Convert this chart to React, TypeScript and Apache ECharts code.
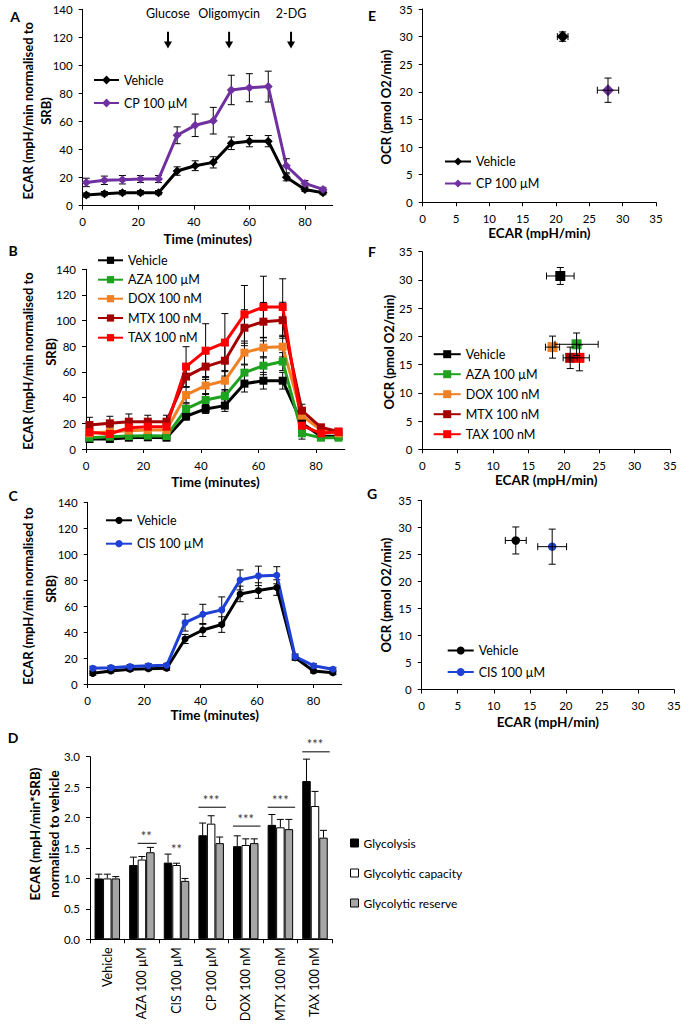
import React, { useEffect, useRef } from "react";
import * as echarts from "echarts";

const FONT = "Lato, 'Open Sans', 'Liberation Sans', sans-serif";

// ---------- Panel A ----------
const timesA = [1.3, 7.8, 14.3, 20.8, 27.3, 34, 40.5, 47, 53.5, 60, 66.8, 73.3, 80, 86.5];
const vehicleA = [7.6, 8.6, 9.3, 9.3, 9.3, 24.7, 28.5, 30.9, 44.5, 46, 46, 20.2, 11.6, 9.3];
const vehicleAErr = [1.5, 1.5, 1.5, 1.5, 1.5, 3, 3.5, 4, 4.5, 4, 4, 2.5, 1.5, 1.5];
const cpA = [16.6, 18.1, 18.5, 19, 19, 50.2, 57.3, 60.6, 82.5, 84.1, 84.9, 28.5, 15.9, 11.6];
const cpAErr = [3, 3, 3, 2.5, 2.5, 6, 8, 9.5, 10.5, 10, 11, 5, 2, 1.5];
const arrowTimes = [30.7, 52.7, 75];
const arrowLabels = ["Glucose", "Oligomycin", "2-DG"];

// ---------- Panel B ----------
const timesB = [1.2, 8.3, 14.9, 21.5, 28.0, 34.8, 41.6, 48.3, 55.1, 61.7, 68.4, 75.1, 81.7, 87.8];
const vehicleB = [7.8, 7.8, 8.8, 9.1, 8.8, 25.5, 31.2, 33.8, 50.9, 53.2, 53.2, 20, 10, 10];
const vehicleBErr = [2, 2, 2, 2, 2, 3, 3.5, 4.5, 6.5, 6.5, 6.5, 3, 2, 2];
const azaB = [8.8, 9.6, 10.1, 10.4, 10.1, 31.2, 38.2, 41.3, 59.5, 64.9, 68.1, 12.2, 8.8, 8.8];
const azaBErr = [2, 2, 2, 2, 2, 4, 5, 5, 6, 7, 7, 4.5, 2, 2];
const doxB = [12.2, 13.5, 14.3, 14.8, 14.8, 42.1, 49.4, 53.2, 75.1, 79, 79.7, 26, 14.8, 12.2];
const doxBErr = [3, 3, 3, 3, 3, 6, 7, 8, 9, 8, 8, 4, 2, 2];
const mtxB = [18.7, 20, 21.3, 21.3, 21.3, 56.4, 64.2, 68.8, 94.5, 99.2, 100.3, 29.9, 16.9, 13.5];
const mtxBErr = [6, 5.5, 6, 5, 5, 8, 10, 12, 14, 15, 14, 5, 2, 2];
const taxB = [13, 11.7, 16.6, 17.4, 17.4, 64.2, 76.6, 82.9, 104.9, 110.6, 110.6, 18.2, 12.2, 13.5];
const taxBErr = [4, 4, 4, 4, 4, 15.5, 21, 22.6, 22.5, 24, 22, 3, 2, 2];

// ---------- Panel C ----------
const timesC = [1.8, 8.2, 15.0, 21.5, 28.0, 34.5, 40.8, 47.5, 54.0, 60.5, 67.0, 73.5, 80.0, 86.9];
const vehicleC = [8.2, 10, 11.3, 11.8, 12.1, 34.7, 41.6, 45.8, 69.4, 72, 74.3, 20.3, 10, 8.7];
const vehicleCErr = [1.5, 1.5, 1.5, 1.5, 1.5, 3.5, 5, 6, 6, 6, 6, 2, 1.5, 1.5];
const cisC = [12.1, 12.6, 13.4, 14.1, 14.4, 47.3, 53.7, 57.1, 80.2, 83.3, 83.8, 21.1, 14.1, 11.3];
const cisCErr = [1.5, 1.5, 1.5, 1.5, 1.5, 6.5, 7.7, 10, 7.7, 7.5, 6.6, 2, 1.5, 1.5];

// ---------- Panel D ----------
const categoriesD = ["Vehicle", "AZA 100 µM", "CIS 100 µM", "CP 100 µM", "DOX 100 nM", "MTX 100 nM", "TAX 100 nM"];
const glycolysis = [1.0, 1.22, 1.26, 1.71, 1.53, 1.88, 2.6];
const glycolysisErr = [0.07, 0.13, 0.14, 0.2, 0.17, 0.17, 0.36];
const capacity = [1.0, 1.31, 1.22, 1.9, 1.55, 1.84, 2.19];
const capacityErr = [0.07, 0.05, 0.03, 0.13, 0.1, 0.13, 0.24];
const reserve = [1.0, 1.43, 0.96, 1.58, 1.58, 1.81, 1.67];
const reserveErr = [0.03, 0.08, 0.04, 0.1, 0.07, 0.16, 0.12];
const sigCats = [1, 2, 3, 4, 5, 6];
const sigLevels = [1.577, 1.36, 2.17, 1.86, 2.17, 3.08];
const sigFrom = [1, 1, 0, 0, 0, 0];
const sigTo = [2, 1, 2, 2, 2, 2];
const sigHasLine = [1, 0, 1, 1, 1, 1];
const sigLabels = ["**", "**", "***", "***", "***", "***"];

// ---------- Panel E ----------
const namesE = ["Vehicle", "CP 100 µM"];
const ecarE = [21.0, 27.8];
const ecarEErr = [0.8, 1.6];
const ocrE = [30.0, 20.3];
const ocrEErr = [0.85, 2.2];

// ---------- Panel F ----------
const namesF = ["Vehicle", "AZA 100 µM", "DOX 100 nM", "MTX 100 nM", "TAX 100 nM"];
const ecarF = [19.5, 21.8, 18.4, 20.9, 22.2];
const ecarFErr = [1.95, 3.05, 1.0, 1.0, 1.4];
const ocrF = [30.7, 18.6, 18.1, 16.2, 16.2];
const ocrFErr = [1.5, 2.0, 1.95, 1.9, 2.3];

// ---------- Panel G ----------
const namesG = ["Vehicle", "CIS 100 µM"];
const ecarG = [13.05, 18.1];
const ecarGErr = [1.45, 2.0];
const ocrG = [27.6, 26.45];
const ocrGErr = [2.5, 3.25];

// ---------- styles ----------
const C_VEH = "#000000";
const C_CP = "#7030a0";
const C_AZA = "#1fa21f";
const C_DOX = "#f08024";
const C_MTX = "#a40000";
const C_TAX = "#ff0000";
const C_CIS = "#1e40d4";
const C_GRAY = "#a6a6a6";
const BAR_W = 8.5;

const zip = (xs: number[], ys: number[]) => xs.map((x, i) => [x, ys[i]]);

const stroke = { stroke: "#000", lineWidth: 1 };

const yErrRender = (cap: number) => (params: any, api: any) => {
  const x = api.value(0), y = api.value(1), e = api.value(2);
  const a = api.coord([x, y + e]);
  const b = api.coord([x, y - e]);
  return {
    type: "group",
    children: [
      { type: "line", shape: { x1: a[0], y1: a[1], x2: b[0], y2: b[1] }, style: stroke },
      { type: "line", shape: { x1: a[0] - cap, y1: a[1], x2: a[0] + cap, y2: a[1] }, style: stroke },
      { type: "line", shape: { x1: b[0] - cap, y1: b[1], x2: b[0] + cap, y2: b[1] }, style: stroke },
    ],
  };
};

const xyErrRender = (cap: number) => (params: any, api: any) => {
  const x = api.value(0), y = api.value(1), xe = api.value(2), ye = api.value(3);
  const t = api.coord([x, y + ye]);
  const b = api.coord([x, y - ye]);
  const l = api.coord([x - xe, y]);
  const r = api.coord([x + xe, y]);
  return {
    type: "group",
    children: [
      { type: "line", shape: { x1: t[0], y1: t[1], x2: b[0], y2: b[1] }, style: stroke },
      { type: "line", shape: { x1: t[0] - cap, y1: t[1], x2: t[0] + cap, y2: t[1] }, style: stroke },
      { type: "line", shape: { x1: b[0] - cap, y1: b[1], x2: b[0] + cap, y2: b[1] }, style: stroke },
      { type: "line", shape: { x1: l[0], y1: l[1], x2: r[0], y2: r[1] }, style: stroke },
      { type: "line", shape: { x1: l[0], y1: l[1] - cap, x2: l[0], y2: l[1] + cap }, style: stroke },
      { type: "line", shape: { x1: r[0], y1: r[1] - cap, x2: r[0], y2: r[1] + cap }, style: stroke },
    ],
  };
};

const barErrRender = (offset: number) => (params: any, api: any) => {
  const c = api.value(0), v = api.value(1), e = api.value(2);
  const a = api.coord([c, v]);
  const b = api.coord([c, v + e]);
  const x = a[0] + offset * BAR_W;
  return {
    type: "group",
    children: [
      { type: "line", shape: { x1: x, y1: a[1], x2: x, y2: b[1] }, style: stroke },
      { type: "line", shape: { x1: x - 3.5, y1: b[1], x2: x + 3.5, y2: b[1] }, style: stroke },
    ],
  };
};

const axisLineStyle = { lineStyle: { color: "#000", width: 1 } };
const tickLabel = { color: "#000", fontSize: 11.5, fontFamily: FONT };
const axisNameStyle = { fontSize: 13.5, fontWeight: "bold", fontFamily: FONT, color: "#000" };

function valueAxis(gridIndex: number, min: number, max: number, interval: number, extra: any = {}) {
  return {
    type: "value",
    gridIndex,
    min,
    max,
    interval,
    splitLine: { show: false },
    axisLine: { show: true, onZero: false, ...axisLineStyle },
    axisTick: { show: true, length: 4, lineStyle: { color: "#000" } },
    axisLabel: { ...tickLabel, margin: 10 },
    ...extra,
  };
}

const timeTicks = [0, 20, 40, 60, 80];
function timeAxis(gridIndex: number, gap: number) {
  return valueAxis(gridIndex, 0, 90, 20, {
    axisTick: { show: true, length: 4, lineStyle: { color: "#000" }, customValues: timeTicks },
    axisLabel: { ...tickLabel, margin: 10, customValues: timeTicks },
    name: "Time (minutes)",
    nameLocation: "middle",
    nameGap: gap,
    nameTextStyle: axisNameStyle,
  });
}
function ecarAxis(gridIndex: number, gap: number) {
  return valueAxis(gridIndex, 0, 35, 5, {
    name: "ECAR (mpH/min)",
    nameLocation: "middle",
    nameGap: gap,
    nameTextStyle: axisNameStyle,
  });
}

function lineSeries(name: string, xi: number, times: number[], vals: number[], color: string, symbol: string, size: number) {
  return {
    type: "line",
    name,
    xAxisIndex: xi,
    yAxisIndex: xi,
    data: zip(times, vals),
    symbol,
    symbolSize: size,
    showSymbol: true,
    color,
    itemStyle: { color },
    lineStyle: { color, width: 3 },
    z: 3,
  };
}
function errSeries(xi: number, times: number[], vals: number[], errs: number[], cap: number) {
  return {
    type: "custom",
    xAxisIndex: xi,
    yAxisIndex: xi,
    renderItem: yErrRender(cap),
    data: times.map((t, i) => [t, vals[i], errs[i]]),
    encode: { x: 0, y: 1 },
    silent: true,
    z: 2,
  };
}
function pointSeries(name: string, xi: number, x: number, y: number, color: string, symbol: string, size: number) {
  return {
    type: "line",
    name,
    xAxisIndex: xi,
    yAxisIndex: xi,
    data: [[x, y]],
    symbol,
    symbolSize: size,
    showSymbol: true,
    color,
    itemStyle: { color },
    lineStyle: { color, width: 3, opacity: 0 },
    z: 4,
  };
}
function xyErrSeries(xi: number, xs: number[], ys: number[], xe: number[], ye: number[], cap: number) {
  return {
    type: "custom",
    xAxisIndex: xi,
    yAxisIndex: xi,
    renderItem: xyErrRender(cap),
    data: xs.map((x, i) => [x, ys[i], xe[i], ye[i]]),
    encode: { x: 0, y: 1 },
    silent: true,
    z: 5,
  };
}

function legendItem(name: string, left: number, cy: number, w: number, h: number, extra: any = {}) {
  return {
    data: [name],
    left,
    top: cy - h / 2,
    orient: "vertical",
    itemWidth: w,
    itemHeight: h,
    padding: 0,
    itemGap: 0,
    selectedMode: false,
    formatter: (n: string) => n.split("|")[1],
    textStyle: { fontSize: 12.5, fontFamily: FONT, color: "#000" },
    lineStyle: { opacity: 1 },
    ...extra,
  };
}

const colorsB = [C_VEH, C_AZA, C_DOX, C_MTX, C_TAX];
const namesB = ["Vehicle", "AZA 100 µM", "DOX 100 nM", "MTX 100 nM", "TAX 100 nM"];
const valsB = [vehicleB, azaB, doxB, mtxB, taxB];
const errsB = [vehicleBErr, azaBErr, doxBErr, mtxBErr, taxBErr];
const colorsF = [C_VEH, C_AZA, C_DOX, C_MTX, C_TAX];

function titleText(text: string, x: number, y: number, size = 13) {
  return {
    type: "text",
    x,
    y,
    rotation: Math.PI / 2,
    silent: true,
    style: { text, fill: "#000", fontSize: size, fontWeight: "bold", fontFamily: FONT, align: "center", verticalAlign: "middle" },
  };
}
function panelLabel(text: string, x: number, y: number) {
  return {
    type: "text",
    x,
    y,
    silent: true,
    style: { text, fill: "#000", fontSize: 14, fontWeight: "bold", fontFamily: FONT, align: "center", verticalAlign: "middle" },
  };
}

function buildOption() {
  const grids = [
    { left: 82.7, top: 9.3, width: 250, height: 196.4 },
    { left: 86, top: 269.3, width: 258.8, height: 179.7 },
    { left: 87.7, top: 502.3, width: 254, height: 181.7 },
    { left: 90, top: 756.7, width: 242.3, height: 182.6 },
    { left: 422.7, top: 9, width: 233.3, height: 193.3 },
    { left: 422.3, top: 251.7, width: 247.7, height: 197.6 },
    { left: 421.7, top: 500.5, width: 252.3, height: 189 },
  ].map((g) => ({ ...g, containLabel: false, outerBoundsMode: "none" }));

  const xAxes: any[] = [
    timeAxis(0, 26),
    timeAxis(1, 26),
    timeAxis(2, 24),
    {
      type: "category",
      gridIndex: 3,
      data: categoriesD,
      axisLine: { show: true, ...axisLineStyle },
      axisTick: { show: true, length: 4, alignWithLabel: false, interval: 0, lineStyle: { color: "#000" } },
      axisLabel: { ...tickLabel, fontSize: 12.5, rotate: 90, interval: 0, margin: 8 },
      splitLine: { show: false },
    },
    ecarAxis(4, 24),
    ecarAxis(5, 24),
    ecarAxis(6, 25),
  ];
  const yAxes: any[] = [
    valueAxis(0, 0, 140, 20),
    valueAxis(1, 0, 140, 20),
    valueAxis(2, 0, 140, 20),
    valueAxis(3, 0, 3, 0.5, { axisLabel: { ...tickLabel, margin: 10, formatter: (v: number) => v.toFixed(1) } }),
    valueAxis(4, 0, 35, 5),
    valueAxis(5, 0, 35, 5),
    valueAxis(6, 0, 35, 5),
  ];

  const series: any[] = [];
  const legends: any[] = [];

  // A
  series.push(errSeries(0, timesA, vehicleA, vehicleAErr, 3.5));
  series.push(errSeries(0, timesA, cpA, cpAErr, 3.5));
  series.push(lineSeries("A|Vehicle", 0, timesA, vehicleA, C_VEH, "diamond", 9));
  series.push(lineSeries("A|CP 100 µM", 0, timesA, cpA, C_CP, "diamond", 9));
  series.push({
    type: "custom",
    xAxisIndex: 0,
    yAxisIndex: 0,
    silent: true,
    clip: false,
    data: arrowTimes.map((t) => [t, 0]),
    encode: { x: 0, y: 1 },
    renderItem: (params: any, api: any) => {
      const t = api.value(0);
      const top = api.coord([t, 124]);
      const bot = api.coord([t, 112]);
      const lab = api.coord([t, 137.3]);
      const x = top[0];
      return {
        type: "group",
        children: [
          { type: "line", shape: { x1: x, y1: top[1], x2: x, y2: bot[1] - 5 }, style: { stroke: "#000", lineWidth: 2 } },
          { type: "polygon", shape: { points: [[x - 4, bot[1] - 7], [x + 4, bot[1] - 7], [x, bot[1]]] }, style: { fill: "#000" } },
          {
            type: "text",
            x,
            y: lab[1],
            style: { text: arrowLabels[params.dataIndex], fill: "#000", fontSize: 12.5, fontFamily: FONT, align: "center", verticalAlign: "middle" },
          },
        ],
      };
    },
  });
  legends.push(legendItem("A|Vehicle", 93, 79, 25, 11));
  legends.push(legendItem("A|CP 100 µM", 93, 102, 25, 11));

  // B
  const rowsB = [258.3, 277.7, 296.7, 316, 335.7];
  for (let i = 0; i < 5; i++) series.push(errSeries(1, timesB, valsB[i], errsB[i], 3.5));
  for (let i = 0; i < 5; i++) {
    const n = "B|" + namesB[i];
    series.push(lineSeries(n, 1, timesB, valsB[i], colorsB[i], "rect", 8));
    legends.push(legendItem(n, 97, rowsB[i], 25, 9));
  }

  // C
  series.push(errSeries(2, timesC, vehicleC, vehicleCErr, 3.5));
  series.push(errSeries(2, timesC, cisC, cisCErr, 3.5));
  series.push(lineSeries("C|Vehicle", 2, timesC, vehicleC, C_VEH, "circle", 7));
  series.push(lineSeries("C|CIS 100 µM", 2, timesC, cisC, C_CIS, "circle", 7));
  legends.push(legendItem("C|Vehicle", 105, 518.3, 26, 9));
  legends.push(legendItem("C|CIS 100 µM", 105, 541.7, 26, 9));

  // D
  const barDefs = [
    { name: "D|Glycolysis", vals: glycolysis, errs: glycolysisErr, color: "#000000" },
    { name: "D|Glycolytic capacity", vals: capacity, errs: capacityErr, color: "#ffffff" },
    { name: "D|Glycolytic reserve", vals: reserve, errs: reserveErr, color: C_GRAY },
  ];
  const rowsD = [841, 871, 901];
  barDefs.forEach((b, i) => {
    series.push({
      type: "bar",
      name: b.name,
      xAxisIndex: 3,
      yAxisIndex: 3,
      data: b.vals,
      barWidth: BAR_W,
      barGap: "0%",
      color: b.color,
      itemStyle: { color: b.color, borderColor: "#000", borderWidth: 1 },
      z: 2,
    });
    legends.push(
      legendItem(b.name, 350, rowsD[i], 8, 8, {
        icon: "rect",
        itemStyle: { borderColor: "#000", borderWidth: 1 },
        textStyle: { fontSize: 12, fontFamily: FONT, color: "#000" },
      })
    );
  });
  barDefs.forEach((b, i) => {
    series.push({
      type: "custom",
      xAxisIndex: 3,
      yAxisIndex: 3,
      silent: true,
      renderItem: barErrRender(i - 1),
      data: b.vals.map((v, c) => [c, v, b.errs[c]]),
      encode: { x: 0, y: 1 },
      z: 3,
    });
  });
  series.push({
    type: "custom",
    xAxisIndex: 3,
    yAxisIndex: 3,
    silent: true,
    clip: false,
    data: sigCats.map((c, i) => [c, sigLevels[i], sigFrom[i], sigTo[i], sigHasLine[i]]),
    encode: { x: 0, y: 1 },
    z: 4,
    renderItem: (params: any, api: any) => {
      const c = api.coord([api.value(0), api.value(1)]);
      const from = api.value(2), to = api.value(3), hasLine = api.value(4);
      const x0 = c[0] + (from - 1.5) * BAR_W;
      const x1 = c[0] + (to - 0.5) * BAR_W;
      const children: any[] = [];
      if (hasLine) {
        children.push({ type: "line", shape: { x1: x0, y1: c[1], x2: x1 + 2, y2: c[1] }, style: { stroke: "#000", lineWidth: 1 } });
      }
      children.push({
        type: "text",
        x: (x0 + x1) / 2,
        y: c[1] - 1,
        style: { text: sigLabels[params.dataIndex], fill: "#404040", fontSize: 13, fontFamily: FONT, align: "center", verticalAlign: "bottom" },
      });
      return { type: "group", children };
    },
  });

  // E
  const colorsE = [C_VEH, C_CP];
  const rowsE = [160, 182];
  for (let i = 0; i < 2; i++) {
    const n = "E|" + namesE[i];
    series.push(pointSeries(n, 4, ecarE[i], ocrE[i], colorsE[i], "diamond", 12));
    legends.push(legendItem(n, 444, rowsE[i], 26, 10));
  }
  series.push(xyErrSeries(4, ecarE, ocrE, ecarEErr, ocrEErr, 3.5));

  // F
  const rowsF = [352.7, 372.7, 392.7, 412.7, 432.7];
  for (let i = 0; i < 5; i++) {
    const n = "F|" + namesF[i];
    series.push(pointSeries(n, 5, ecarF[i], ocrF[i], colorsF[i], "rect", 10));
    legends.push(legendItem(n, 432.7, rowsF[i], 27, 10));
  }
  series.push(xyErrSeries(5, ecarF, ocrF, ecarFErr, ocrFErr, 3.5));

  // G
  const colorsG = [C_VEH, C_CIS];
  const rowsG = [649, 670.5];
  for (let i = 0; i < 2; i++) {
    const n = "G|" + namesG[i];
    series.push(pointSeries(n, 6, ecarG[i], ocrG[i], colorsG[i], "circle", 8.5));
    legends.push(legendItem(n, 446.7, rowsG[i], 26, 10));
  }
  series.push(xyErrSeries(6, ecarG, ocrG, ecarGErr, ocrGErr, 3.5));

  const graphic = [
    panelLabel("A", 15, 16),
    panelLabel("B", 13, 250),
    panelLabel("C", 13, 495),
    panelLabel("D", 13, 737),
    panelLabel("E", 372, 15),
    panelLabel("F", 372, 251),
    panelLabel("G", 372, 493),
    titleText("ECAR (mpH/min normalised to", 27.5, 110.7),
    titleText("SRB)", 46, 111),
    titleText("ECAR (mpH/min normalised to", 27.5, 361),
    titleText("SRB)", 50.5, 352),
    titleText("ECAR (mpH/min normalised to", 27.5, 596),
    titleText("SRB)", 51, 589),
    titleText("ECAR (mpH/min*SRB)", 35, 834, 13.5),
    titleText("normalised to vehicle", 54, 834, 13.5),
    titleText("OCR (pmol O2/min)", 386, 107),
    titleText("OCR (pmol O2/min)", 389, 352),
    titleText("OCR (pmol O2/min)", 386, 595),
  ];

  return {
    animation: false,
    backgroundColor: "#ffffff",
    textStyle: { fontFamily: FONT, color: "#000" },
    grid: grids,
    xAxis: xAxes,
    yAxis: yAxes,
    legend: legends,
    series,
    graphic,
  };
}

export default function App() {
  const ref = useRef<HTMLDivElement>(null);
  useEffect(() => {
    document.body.style.margin = "0";
    const chart = echarts.init(ref.current as HTMLDivElement, null, { renderer: "svg" });
    chart.setOption(buildOption() as any);
    return () => chart.dispose();
  }, []);
  return <div ref={ref} style={{ width: 691, height: 1024 }} />;
}
